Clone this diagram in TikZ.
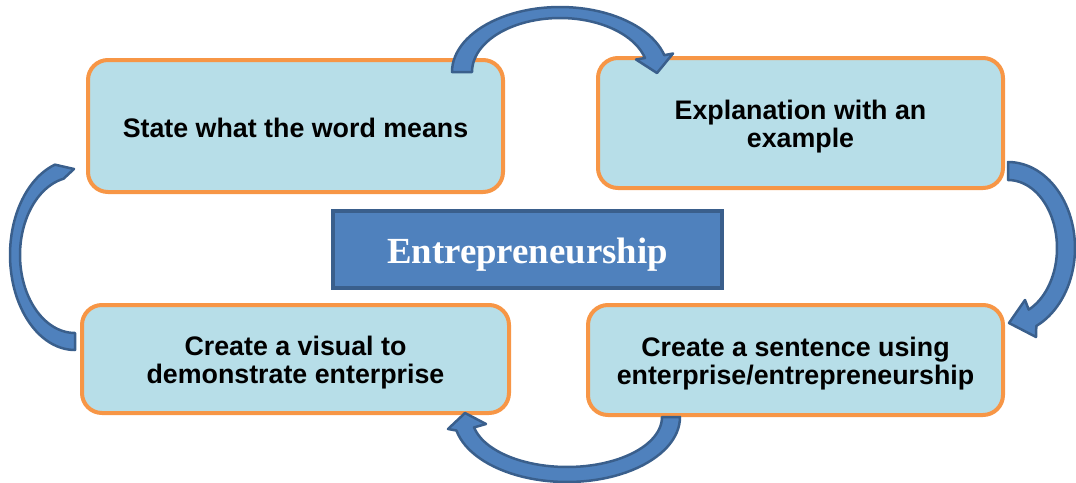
\documentclass[tikz,border=0pt]{standalone}
\usepackage{fontspec}
\setmainfont{Liberation Sans}
\newfontfamily\titlefont{Liberation Serif}
\begin{document}
\definecolor{boxfill}{HTML}{B7DEE8}
\definecolor{boxline}{HTML}{F79646}
\definecolor{hubfill}{HTML}{4F81BD}
\definecolor{hubline}{HTML}{3A5F8C}
\begin{tikzpicture}[x=1pt,y=-1pt,
  stepbox/.style={draw=boxline, fill=boxfill, line width=4pt, rounded corners=20pt, inner sep=0pt},
  steptext/.style={align=center, inner sep=0pt, font=\fontsize{26.8}{28.5}\selectfont\bfseries},
  hub/.style={draw=hubline, fill=hubfill, line width=4pt, inner sep=0pt},
  hubtext/.style={inner sep=0pt, text=white, font=\titlefont\fontsize{36.8}{40}\selectfont\bfseries},
  blockarrow/.style={draw=hubline, fill=hubfill, line width=2.5pt, line join=round}]
\useasboundingbox (0,0) rectangle (1076,482);

% the four steps
\node[stepbox, minimum width=415pt, minimum height=132pt] (word) at (295.5,126) {};
\node[stepbox, minimum width=405pt, minimum height=130pt] (expl) at (800.5,123) {};
\node[stepbox, minimum width=415pt, minimum height=110pt] (sent) at (795.5,360) {};
\node[stepbox, minimum width=427pt, minimum height=108pt] (visual) at (295.5,359) {};

\node[steptext] (wordtext) at ([yshift=-1.5pt]word.center) {State what the word means};
\node[steptext] (expltext) at ([yshift=-3.5pt]expl.center) {Explanation with an\\example};
\node[steptext] (senttext) at ([yshift=-3.5pt]sent.center) {Create a sentence using\\enterprise/entrepreneurship};
\node[steptext] (visualtext) at ([yshift=-3.5pt]visual.center) {Create a visual to\\demonstrate enterprise};

% central topic
\node[hub, minimum width=389pt, minimum height=77pt] (topic) at (527.5,249.5) {};
\node[hubtext] (topictext) at ([yshift=-5pt]topic.center) {Entrepreneurship};

% curved block arrows between the steps
\coordinate (topTip) at (657,73);
\draw[blockarrow] plot[domain=180:345, samples=50] ({560+108*cos(\x)},{72+65*sin(\x)})
  -- (673,53.5) -- (topTip) -- (636,59.5)
  -- plot[domain=345:180, samples=50] ({560+88*cos(\x)},{72+54*sin(\x)}) -- cycle;

\coordinate (rightTip) at (1009,323);
\draw[blockarrow] plot[domain=-90:65, samples=50] ({1008+67*cos(\x)},{248+86*sin(\x)})
  -- (1036,337) -- (rightTip) -- (1025,300)
  -- plot[domain=65:-90, samples=50] ({1008+49*cos(\x)},{248+68*sin(\x)}) -- cycle;

\coordinate (bottomTip) at (465,413);
\draw[blockarrow] plot[domain=0:168, samples=50] ({567+113*cos(\x)},{417+65*sin(\x)})
  -- (448,429) -- (bottomTip) -- (486,424)
  -- plot[domain=168:0, samples=50] ({567+95*cos(\x)},{417+50*sin(\x)}) -- cycle;

\coordinate (leftTip) at (74,169);
\draw[blockarrow] plot[domain=90:252, samples=50] ({75+65*cos(\x)},{255+95*sin(\x)})
  -- (leftTip)
  -- plot[domain=258:90, samples=50] ({75+55*cos(\x)},{255+78*sin(\x)}) -- cycle;
\end{tikzpicture}
\end{document}
